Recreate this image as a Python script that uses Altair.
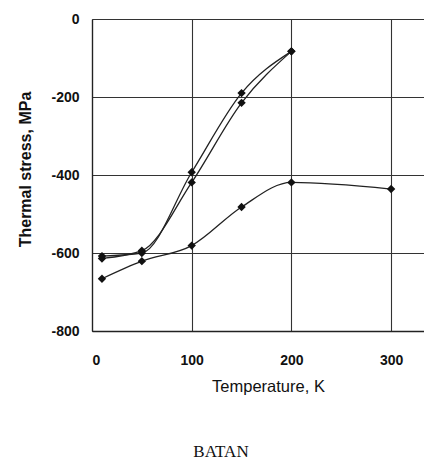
import altair as alt
import pandas as pd

# Data
temps_ab = [10, 50, 100, 150, 200]
series_a = [-608, -600, -393, -190, -83]
series_b = [-614, -594, -419, -215, -83]
temps_c = [10, 50, 100, 150, 200, 300]
series_c = [-666, -621, -581, -482, -419, -436]

x_ticks = [0, 100, 200, 300]
y_ticks = [-800, -600, -400, -200, 0]
x_title = "Temperature, K"
y_title = "Thermal stress, MPa"
caption = "BATAN"

rows = []
for name, xs, ys in [("A", temps_ab, series_a), ("B", temps_ab, series_b), ("C", temps_c, series_c)]:
    for xv, yv in zip(xs, ys):
        rows.append({"series": name, "T": xv, "stress": yv})
df = pd.DataFrame(rows)

x_enc = alt.X("T:Q", scale=alt.Scale(domain=[0, 333], nice=False, zero=False),
              axis=alt.Axis(values=x_ticks, title=x_title, labelPadding=22, titlePadding=11,
                            ticks=False, grid=True, titleFontSize=16.5, titleFontWeight="normal",
                            titleX=176))
y_enc = alt.Y("stress:Q", scale=alt.Scale(domain=[-800, 0], nice=False),
              axis=alt.Axis(values=y_ticks, title=y_title, labelPadding=13, titlePadding=17,
                            ticks=False, grid=True, labelExpr="replace(datum.label, '−', '-')",
                            titleFontSize=16, titleY=150))

lines = alt.Chart(df).mark_line(interpolate="monotone", color="#222", strokeWidth=1.3).encode(
    x=x_enc, y=y_enc, detail="series:N")
points = alt.Chart(df).mark_point(shape="diamond", filled=True, color="#111", size=70, opacity=1).encode(
    x="T:Q", y="stress:Q")
text = alt.Chart(pd.DataFrame({"t": [caption]})).mark_text(
    font="Liberation Serif", fontSize=17, baseline="alphabetic", align="center", color="#111"
).encode(x=alt.value(129), y=alt.value(438), text="t:N")

chart = alt.layer(lines, points, text).properties(
    width=332, height=312, autosize=alt.AutoSizeParams(type="none"),
    padding={"left": 84, "top": 11, "right": 0, "bottom": 132}
).configure_view(stroke=None).configure_axis(
    domainColor="#222", domainWidth=1.3, gridColor="#333", gridWidth=1.1, gridOpacity=1,
    labelFont="Liberation Sans", labelFontSize=14, labelFontWeight="bold", labelColor="#111",
    titleFont="Liberation Sans", titleFontWeight="bold", titleColor="#111"
)

chart.save("out.html", embed_options={"renderer": "svg", "actions": False})
